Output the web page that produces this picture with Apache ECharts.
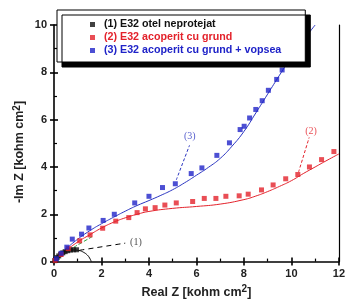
<!DOCTYPE html>
<html>
<head>
<meta charset="utf-8">
<script src="https://cdn.jsdelivr.net/npm/echarts@6/dist/echarts.min.js"></script>
<style>
  html, body { margin: 0; padding: 0; background: #fff; }
  #chart { width: 348px; height: 304px; }
</style>
</head>
<body>
<div id="chart"></div>
<script>
// measured points, [Real Z, -Im Z] in kohm cm2
const names = ['(1) E32 otel neprotejat', '(2) E32 acoperit cu grund', '(3) E32 acoperit cu grund + vopsea'];
const colors = ['#111111', '#e3222b', '#1f23c8'];

const blackPts = [[0.03, 0.04], [0.08, 0.1], [0.13, 0.17], [0.2, 0.24], [0.28, 0.31], [0.37, 0.37],
  [0.47, 0.42], [0.58, 0.46], [0.7, 0.49], [0.82, 0.5], [0.95, 0.5]];
const redPts = [[0.05, 0.05], [0.3, 0.3], [0.6, 0.55], [1.08, 0.88], [1.52, 1.13], [2.05, 1.41], [2.6, 1.71],
  [3.15, 1.86], [3.5, 2.07], [3.85, 2.23], [4.26, 2.28], [4.67, 2.39], [5.15, 2.48], [5.84, 2.54],
  [6.33, 2.67], [6.82, 2.67], [7.24, 2.76], [7.8, 2.78], [8.18, 2.85], [8.74, 3.03], [9.23, 3.24],
  [9.76, 3.5], [10.27, 3.68], [10.76, 4.0], [11.27, 4.31], [11.79, 4.65]];
const bluePts = [[0.1, 0.12], [0.3, 0.35], [0.54, 0.61], [0.77, 0.95], [1.16, 1.16], [1.47, 1.42],
  [2.07, 1.74], [2.54, 2.0], [3.4, 2.48], [4.0, 2.76], [4.57, 3.13], [5.11, 3.29], [5.78, 3.72],
  [6.23, 3.96], [6.86, 4.49], [7.39, 5.02], [7.84, 5.58], [8.01, 5.72], [8.24, 6.07], [8.5, 6.43],
  [8.77, 6.8], [9.03, 7.24], [9.38, 7.7], [9.61, 8.1]];

// fitted curves
const blackFit = [[0, 0], [0.1, 0.2], [0.25, 0.33], [0.5, 0.44], [0.8, 0.49], [1.05, 0.47], [1.25, 0.39],
  [1.4, 0.28], [1.5, 0.15], [1.57, 0]];
const greenFit = [[0, 0], [0.4, 0.3], [0.8, 0.58], [1.2, 0.82], [1.6, 1.05]];
const redFit = [[0, 0], [0.5, 0.45], [1, 0.83], [1.5, 1.13], [2, 1.42], [2.5, 1.66], [3, 1.85], [3.5, 2.0],
  [4, 2.12], [5, 2.25], [6, 2.33], [7, 2.43], [8, 2.62], [8.5, 2.77], [9, 2.96], [9.5, 3.18],
  [10, 3.42], [10.5, 3.72], [11, 4.0], [11.5, 4.28], [12, 4.55]];
const blueFit = [[0, 0], [0.5, 0.52], [1, 0.95], [1.5, 1.3], [2, 1.6], [2.5, 1.87], [3, 2.13],
  [3.5, 2.37], [4, 2.58], [4.5, 2.8], [5, 3.04], [5.5, 3.33], [6, 3.65], [6.5, 3.98], [7, 4.36],
  [7.5, 4.88], [8, 5.5], [8.5, 6.28], [9, 7.08], [9.5, 7.88], [10, 8.65], [10.5, 9.35], [11, 10.0]];

// annotation labels and their leader lines
const annoText = ['(1)', '(2)', '(3)'];
const annoPos = [[3.45, 0.82], [10.83, 5.5], [5.72, 5.28]];
const leader1 = [[1.08, 0.48], [3.0, 0.78]];
const leader2 = [[10.3, 3.78], [10.75, 5.25]];
const leader3 = [[5.15, 3.45], [5.71, 4.92]];

const xTicks = { min: 0, max: 12, interval: 2 };
const yTicks = { min: 0, max: 10, interval: 2 };

const font = 'Liberation Sans, Arial, sans-serif';
const axisBlack = { color: '#000', width: 1.6 };

const chart = echarts.init(document.getElementById('chart'), null, { renderer: 'canvas' });

function fitLine (data, color, type) {
  return {
    type: 'line', data: data, symbol: 'none', smooth: true, z: 3, silent: true,
    lineStyle: { color: color, width: 1, type: type || 'solid' }
  };
}

function pts (name, data, color) {
  return {
    name: name, type: 'scatter', data: data, symbol: 'rect', symbolSize: 5, z: 4,
    itemStyle: { color: color }
  };
}

const supRich = { sup: { fontFamily: font, fontSize: 10, fontWeight: 'bold', fill: '#222', color: '#222', verticalAlign: 'top', padding: [0, 0, 6, 0] } };
const nameStyle = {
  fontFamily: font, fontSize: 12.5, fontWeight: 'bold', color: '#222', rich: supRich
};

const option = {
  animation: false,
  grid: { left: 54, right: 5, top: 25, bottom: 37 },
  legend: {
    orient: 'vertical',
    left: 57, top: 10,
    padding: [9, 24, 6, 33],
    itemWidth: 5, itemHeight: 5, itemGap: 2,
    icon: 'rect',
    backgroundColor: '#fff',
    borderColor: '#000', borderWidth: 1,
    shadowColor: '#000', shadowBlur: 0, shadowOffsetX: 5, shadowOffsetY: 5,
    z: 10,
    textStyle: { fontFamily: font, fontSize: 10.7, fontWeight: 'bold', padding: [0, 0, 0, 4] },
    data: names.map(function (n, i) {
      return { name: n, textStyle: { color: colors[i] } };
    })
  },
  // y axis title, placed by hand
  graphic: [{
    type: 'text',
    x: 20, y: 152,
    rotation: Math.PI / 2,
    style: {
      text: '-Im Z [kohm cm{sup|2}]',
      fontFamily: font, fontSize: 12.5, fontWeight: 'bold', fill: '#222',
      align: 'center', verticalAlign: 'middle',
      rich: supRich
    }
  }],
  xAxis: [{
    type: 'value', min: xTicks.min, max: xTicks.max, interval: xTicks.interval,
    position: 'bottom',
    name: 'Real Z [kohm cm{sup|2}]',
    nameLocation: 'middle', nameGap: 19,
    nameTextStyle: nameStyle,
    axisLine: { onZero: false, lineStyle: axisBlack },
    axisTick: { length: 4, lineStyle: axisBlack },
    axisLabel: { margin: 7, fontFamily: font, fontSize: 11, fontWeight: 'bold', color: '#222' },
    splitLine: { show: false }
  }, {
    // inner half of the crossing ticks plus the minor ticks
    type: 'value', min: xTicks.min, max: xTicks.max, interval: xTicks.interval,
    position: 'bottom',
    axisLine: { show: false, onZero: false },
    axisTick: { inside: true, length: 4, lineStyle: axisBlack },
    minorTick: { show: true, splitNumber: 2, length: 3, lineStyle: { color: '#000', width: 1.2 } },
    axisLabel: { show: false },
    splitLine: { show: false }
  }],
  yAxis: [{
    type: 'value', min: yTicks.min, max: yTicks.max, interval: yTicks.interval,
    position: 'left',
    axisLine: { onZero: false, lineStyle: axisBlack },
    axisTick: { length: 4, lineStyle: axisBlack },
    axisLabel: { margin: 7, fontFamily: font, fontSize: 11, fontWeight: 'bold', color: '#222' },
    splitLine: { show: false }
  }, {
    type: 'value', min: yTicks.min, max: yTicks.max, interval: yTicks.interval,
    position: 'left',
    axisLine: { show: false, onZero: false },
    axisTick: { inside: true, length: 4, lineStyle: axisBlack },
    minorTick: { show: true, splitNumber: 2, length: 3, lineStyle: { color: '#000', width: 1.2 } },
    axisLabel: { show: false },
    splitLine: { show: false }
  }, {
    // right frame line
    type: 'value', min: yTicks.min, max: yTicks.max,
    position: 'right',
    axisLine: { show: true, onZero: false, lineStyle: { color: '#000', width: 1.2 } },
    axisTick: { show: false },
    axisLabel: { show: false },
    splitLine: { show: false }
  }],
  series: [
    fitLine(redFit, '#e3222b'),
    fitLine(blueFit, '#2a34c0'),
    fitLine(greenFit, '#2fa03a', 'dashed'),
    fitLine(blackFit, '#000'),
    pts(names[0], blackPts, colors[0]),
    pts(names[1], redPts, colors[1]),
    pts(names[2], bluePts, colors[2]),
    fitLine(leader1, '#000', [5, 4]),
    fitLine(leader2, '#e3222b', [3, 2]),
    fitLine(leader3, '#2a34c0', [3, 2]),
    {
      type: 'scatter', symbolSize: 0, silent: true, z: 5,
      data: annoPos.map(function (p, i) {
        return {
          value: p,
          label: {
            show: true, position: 'inside', formatter: annoText[i],
            fontFamily: 'Liberation Serif, serif', fontSize: 10,
            color: ['#222', '#e3222b', '#2a34c0'][i]
          }
        };
      })
    }
  ]
};

chart.setOption(option);
</script>
</body>
</html>
